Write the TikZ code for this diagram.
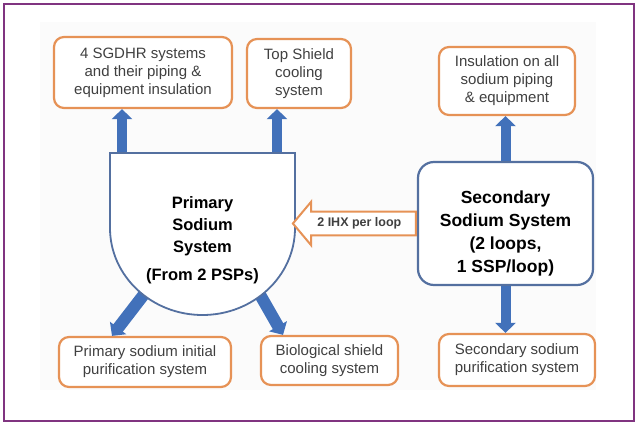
\documentclass[tikz,border=0pt]{standalone}
\usepackage{fontspec}
\setmainfont{Liberation Sans}
\usetikzlibrary{calc, arrows.meta, shapes.arrows, positioning}

\definecolor{boxorange}{RGB}{230,146,86}
\definecolor{flowblue}{RGB}{66,113,186}
\definecolor{vesselblue}{RGB}{84,112,160}
\definecolor{framepurple}{RGB}{128,52,128}
\definecolor{txtgray}{RGB}{64,64,64}
\definecolor{panelgray}{RGB}{251,251,251}

\begin{document}
\begin{tikzpicture}[x=1pt, y=1pt,
        outbox/.style={draw=boxorange, line width=2.2pt, rounded corners=10pt, fill=white,
            text=txtgray, align=center, inner sep=2pt, font=\fontsize{15}{18}\selectfont},
        flow/.style={draw=flowblue, line width=10pt, -{Triangle[width=20pt, length=10pt]}},
        bigtext/.style={align=center, font=\bfseries\fontsize{17}{22}\selectfont}]
        \useasboundingbox (0,0) rectangle (638,-423);
        \fill[panelgray] (40,-22) rectangle (596,-390);
        \draw[framepurple, line width=1.5pt] (4,-4) rectangle (634,-421);

        % output systems
        \node[outbox, minimum width=178pt, minimum height=71pt] (sgdhr) at (143,-72.5)
            {4 SGDHR systems\\and their piping \&\\equipment insulation};
        \node[outbox, minimum width=104pt, minimum height=69pt] (tshield) at (299,-73.5)
            {Top Shield\\cooling\\system};
        \node[outbox, minimum width=136pt, minimum height=68pt] (insul) at (507,-81)
            {Insulation on all\\sodium piping\\\& equipment};
        \node[outbox, minimum width=172pt, minimum height=50pt] (ppur) at (145,-362)
            {Primary sodium initial\\purification system};
        \node[outbox, minimum width=137pt, minimum height=49pt] (bio) at (329.5,-360.5)
            {Biological shield\\cooling system};
        \node[outbox, minimum width=156pt, minimum height=52pt] (spur) at (517,-360)
            {Secondary sodium\\purification system};

        % secondary loop
        \node[bigtext, draw=vesselblue, line width=2.2pt, rounded corners=16pt, fill=white,
            minimum width=175pt, minimum height=123pt,
            font=\bfseries\fontsize{17.5}{23}\selectfont]
            (ssys) at (505.5,-223.5) {\rule{0pt}{32pt}Secondary\\Sodium System\\(2 loops,\\1 SSP/loop)};

        % points on the vessel
        \coordinate (vtl) at (122,-160);
        \coordinate (vtr) at (277,-160);
        \coordinate (vbl) at ($(202.5,-228)+(-130:84 and 79)$);
        \coordinate (vbr) at ($(202.5,-228)+(-50:84 and 79)$);

        \draw[flow] (vtl) -- (vtl |- sgdhr.south);
        \draw[flow] (vtr) -- (vtr |- tshield.south);
        \draw[flow, line width=12pt] (vbl) -- ([xshift=-33pt]ppur.north);
        \draw[flow, line width=12pt] (vbr) -- ([xshift=-46.5pt]bio.north);
        \draw[flow] (ssys.north) -- (ssys.north |- insul.south);
        \draw[flow] (ssys.south) -- (ssys.south |- spur.north);

        % primary vessel
        \draw[vesselblue, line width=1.8pt, fill=white] (110,-153) -- (295,-153) -- (295,-228)
            arc[start angle=0, end angle=-180, x radius=92.5pt, y radius=87pt] -- cycle;
        \node[bigtext, font=\bfseries\fontsize{16.5}{22}\selectfont] (psys) at (202.5,-240)
            {Primary\\Sodium\\System\\[6pt](From 2 PSPs)};

        % heat transfer
        \node[single arrow, draw=boxorange, line width=2pt, fill=white, shape border rotate=180,
            single arrow head extend=10pt, single arrow tip angle=100, minimum height=123pt,
            inner ysep=5pt, inner xsep=2pt, anchor=tail, text=txtgray,
            font=\bfseries\fontsize{12.5}{14}\selectfont] (ihx) at (ssys.west) {2 IHX per loop};
    \end{tikzpicture}
\end{document}
